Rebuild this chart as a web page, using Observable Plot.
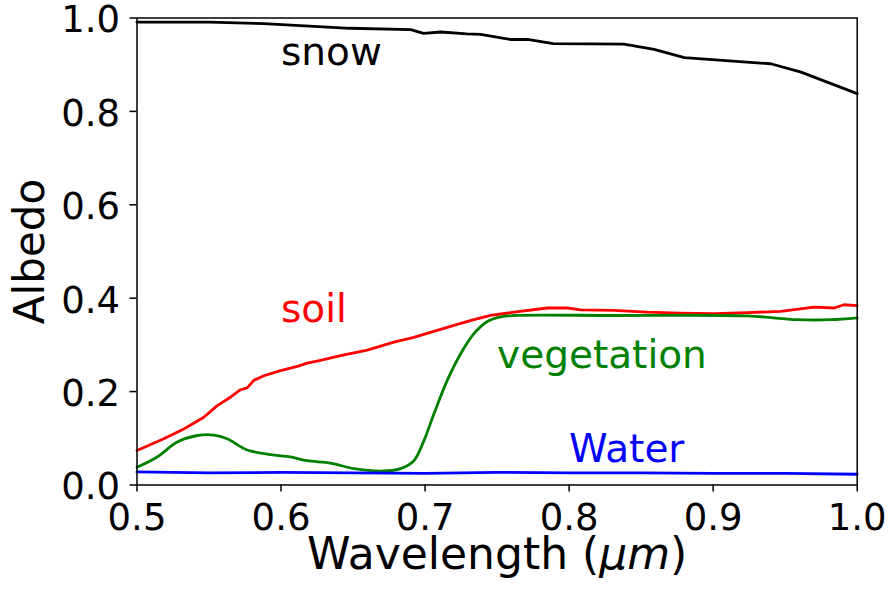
<!DOCTYPE html>
<html>
<head>
<meta charset="utf-8">
<script src="https://cdn.jsdelivr.net/npm/d3@7"></script>
<script src="https://cdn.jsdelivr.net/npm/@observablehq/plot@0.6"></script>
<style>
  body { margin: 0; background: #fff; }
  #chart svg { font-family: "DejaVu Sans", sans-serif; }
</style>
</head>
<body>
<div id="chart"></div>
<script>
// Spectral albedo of common surfaces, 0.5–1.0 µm

const snowWavelength = [0.500, 0.550, 0.588, 0.648, 0.690, 0.699, 0.711, 0.729, 0.7385, 0.759, 0.771, 0.789, 0.838, 0.859, 0.880, 0.940, 0.961, 1.000];
const snowAlbedo     = [0.991, 0.991, 0.988, 0.978, 0.975, 0.967, 0.970, 0.966, 0.965, 0.954, 0.954, 0.945, 0.944, 0.933, 0.915, 0.902, 0.884, 0.838];

const soilWavelength = [0.500, 0.5186, 0.5325, 0.5464, 0.5557, 0.5649, 0.5719, 0.5765, 0.5811, 0.5881, 0.5997, 0.6113, 0.6182, 0.6274, 0.6413, 0.6599, 0.6783, 0.6922, 0.7061, 0.7200, 0.7339, 0.7455, 0.7617, 0.7849, 0.7988, 0.808, 0.831, 0.854, 0.877, 0.9006, 0.9237, 0.9469, 0.970, 0.984, 0.9908, 1.000];
const soilAlbedo     = [0.074, 0.099, 0.120, 0.145, 0.170, 0.188, 0.204, 0.208, 0.224, 0.234, 0.245, 0.254, 0.261, 0.267, 0.277, 0.289, 0.306, 0.316, 0.329, 0.342, 0.354, 0.363, 0.370, 0.379, 0.379, 0.375, 0.374, 0.370, 0.368, 0.367, 0.369, 0.372, 0.381, 0.379, 0.386, 0.384];

const vegWavelength = [0.500, 0.5140, 0.5279, 0.5418, 0.5533, 0.5626, 0.5765, 0.5927, 0.6066, 0.6182, 0.6344, 0.6506, 0.6714, 0.6830, 0.6922, 0.6992, 0.7061, 0.7154, 0.7247, 0.7339, 0.7432, 0.7524, 0.7617, 0.831, 0.9237, 0.958, 0.9816, 1.000];
const vegAlbedo     = [0.038, 0.060, 0.092, 0.106, 0.107, 0.099, 0.075, 0.065, 0.060, 0.052, 0.047, 0.035, 0.030, 0.035, 0.052, 0.095, 0.152, 0.224, 0.281, 0.324, 0.350, 0.360, 0.363, 0.363, 0.362, 0.354, 0.354, 0.358];

const waterWavelength = [0.500, 0.550, 0.600, 0.650, 0.700, 0.750, 0.800, 0.850, 0.900, 0.950, 1.000];
const waterAlbedo     = [0.028, 0.026, 0.027, 0.026, 0.025, 0.027, 0.026, 0.026, 0.025, 0.025, 0.023];

const xTicks = [0.5, 0.6, 0.7, 0.8, 0.9, 1.0];
const yTicks = [0.0, 0.2, 0.4, 0.6, 0.8, 1.0];

// Inline surface labels
const labelText  = ["snow", "soil", "vegetation", "Water"];
const labelX     = [0.6, 0.6, 0.75, 0.8];
const labelY     = [0.9, 0.35, 0.25, 0.05];
const labelColor = ["black", "red", "green", "blue"];

const toRows = (xs, ys) => xs.map((x, i) => ({x, y: ys[i]}));
const labels = labelText.map((t, i) => ({t, x: labelX[i], y: labelY[i], c: labelColor[i]}));

const series = [
  {rows: toRows(snowWavelength, snowAlbedo), color: "black", curve: "linear"},
  {rows: toRows(soilWavelength, soilAlbedo), color: "red", curve: "linear"},
  {rows: toRows(vegWavelength, vegAlbedo), color: "green", curve: "catmull-rom"},
  {rows: toRows(waterWavelength, waterAlbedo), color: "blue", curve: "linear"}
];

const fmt = d3.format(".1f");

const chart = Plot.plot({
  width: 889,
  height: 592,
  marginLeft: 136.5,
  marginRight: 32.3,
  marginTop: 17.5,
  marginBottom: 107.5,
  style: {background: "white", color: "black", fontFamily: "DejaVu Sans", overflow: "visible"},
  x: {domain: [0.5, 1.0]},
  y: {domain: [0, 1.0]},
  marks: [
    ...series.map(s => Plot.line(s.rows, {x: "x", y: "y", stroke: s.color, strokeWidth: 2.8, curve: s.curve})),
    Plot.frame({stroke: "black", strokeWidth: 1.5}),
    Plot.axisX({ticks: xTicks, tickFormat: fmt, tickSize: 7, tickPadding: 12, fontSize: 37, label: null, strokeWidth: 1.5}),
    // y tick marks, then the y tick labels set slightly lower
    Plot.axisY({ticks: yTicks, tickSize: 7, text: null, label: null, strokeWidth: 1.5}),
    Plot.axisY({ticks: yTicks, tickFormat: fmt, tickSize: 0, tickPadding: 17, fontSize: 37, label: null, dy: 2.5}),
    Plot.text(labels, {x: "x", y: "y", text: "t", fill: "c", textAnchor: "start", lineAnchor: "bottom", fontSize: 39}),
    Plot.text(["Wavelength (μm)"], {frameAnchor: "bottom", textAnchor: "middle", dy: 83.5, lineAnchor: "bottom", fontSize: 44}),
    Plot.text(["Albedo"], {frameAnchor: "left", textAnchor: "middle", dx: -93.5, rotate: -90, lineAnchor: "bottom", fontSize: 42})
  ]
});

// Set the unit part of the x label in italics
d3.select(chart).selectAll("text").each(function () {
  if (this.textContent === "Wavelength (μm)") {
    const t = d3.select(this).text("");
    t.append("tspan").text("Wavelength (");
    t.append("tspan").attr("font-style", "italic").text("μm");
    t.append("tspan").text(")");
  }
});

document.getElementById("chart").appendChild(chart);
</script>
</body>
</html>
